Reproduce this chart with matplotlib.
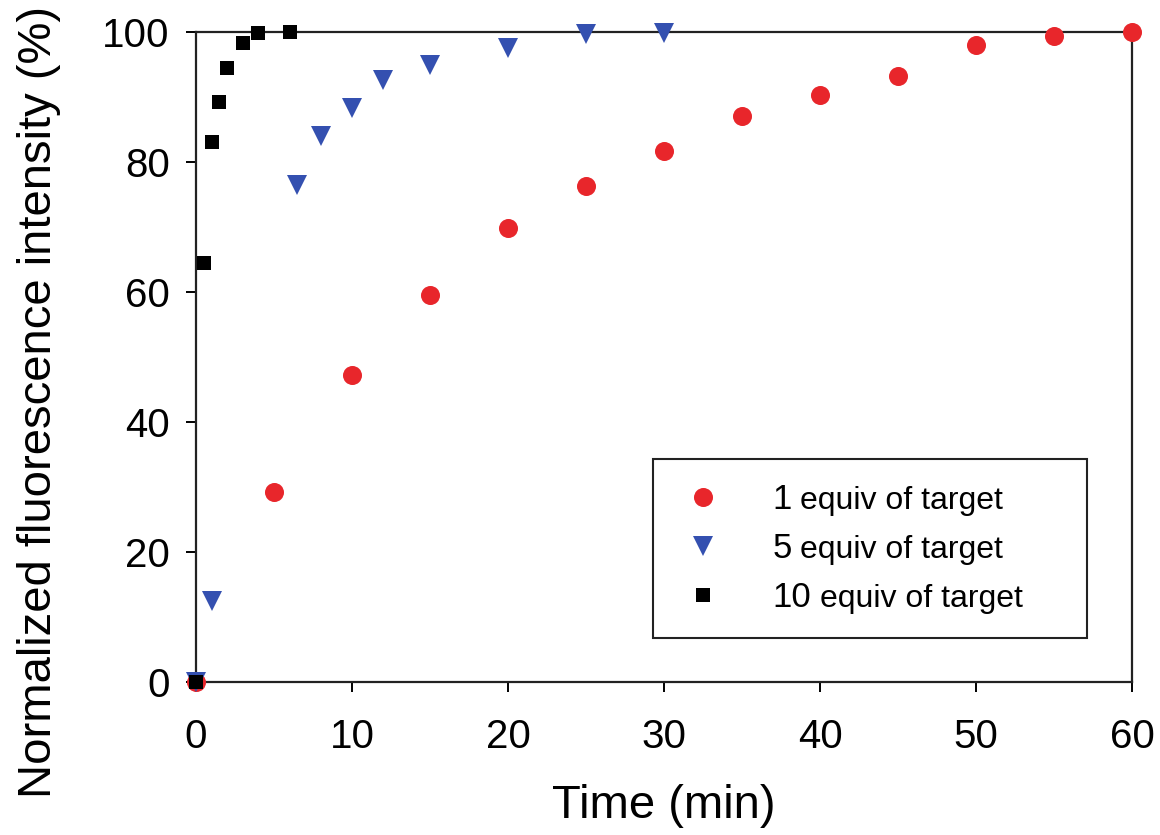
import matplotlib
matplotlib.use('Agg')
import matplotlib.pyplot as plt
import numpy as np

plt.rcParams['font.family'] = ['Liberation Sans', 'DejaVu Sans']

# 1 equiv of target
t_1 = [0, 5, 10, 15, 20, 25, 30, 35, 40, 45, 50, 55, 60]
y_1 = [0, 29.2, 47.2, 59.5, 69.8, 76.3, 81.6, 87.0, 90.3, 93.2, 97.9, 99.4, 100]

# 5 equiv of target
t_5 = [0, 1, 6.5, 8, 10, 12, 15, 20, 25, 30]
y_5 = [0, 12.5, 76.5, 83.9, 88.2, 92.6, 94.9, 97.5, 99.6, 99.8]

# 10 equiv of target
t_10 = [0, 0.5, 1, 1.5, 2, 3, 4, 6]
y_10 = [0, 64.5, 83.1, 89.2, 94.5, 98.2, 99.8, 99.9]

numbers = ['1', '5', '10']
suffix = 'equiv of target'

fig = plt.figure(figsize=(11.6, 8.35), dpi=100)
ax = fig.add_axes([0.169, 0.183, 0.807, 0.779])

h1, = ax.plot(t_1, y_1, 'o', color='#e8262b', markersize=13.7, markeredgewidth=0,
              clip_on=False, zorder=3)
h5, = ax.plot(t_5, y_5, 'v', color='#3450b0', markersize=14, markeredgewidth=0,
              clip_on=False, zorder=4)
h10, = ax.plot(t_10, y_10, 's', color='black', markersize=10, markeredgewidth=0,
               clip_on=False, zorder=5)

ax.set_xlim(0, 60)
ax.set_ylim(0, 100)
ax.set_xticks(np.arange(0, 61, 10))
ax.set_yticks(np.arange(0, 101, 20))
for s in ax.spines.values():
    s.set_linewidth(1.6)
    s.set_color('#222222')
ax.tick_params(axis='both', direction='out', length=7, width=1.4, labelsize=29,
               top=False, right=False)
ax.tick_params(axis='x', pad=19)
ax.tick_params(axis='y', pad=12)
ax.set_xlabel('Time (min)', fontsize=34, labelpad=20)
ax.set_ylabel('Normalized fluorescence intensity (%)', fontsize=34)
ax.yaxis.set_label_coords(-0.144, 0.43)

leg = ax.legend([h1, h5, h10], numbers, loc='lower left',
                bbox_to_anchor=(0.488, 0.068, 0.464, 0.285), mode='expand',
                borderaxespad=0, fontsize=25, frameon=True, fancybox=False,
                edgecolor='#222222', framealpha=1, borderpad=0.7,
                labelspacing=0.45, handlelength=1.5, handletextpad=1.25)
leg.get_frame().set_linewidth(1.5)

for txt in leg.get_texts():
    ax.annotate(suffix, xy=(1, 0), xycoords=txt, xytext=(6, 0),
                textcoords='offset points', va='bottom', ha='left',
                fontsize=23, zorder=10)

fig.savefig('out.png', dpi=100)
